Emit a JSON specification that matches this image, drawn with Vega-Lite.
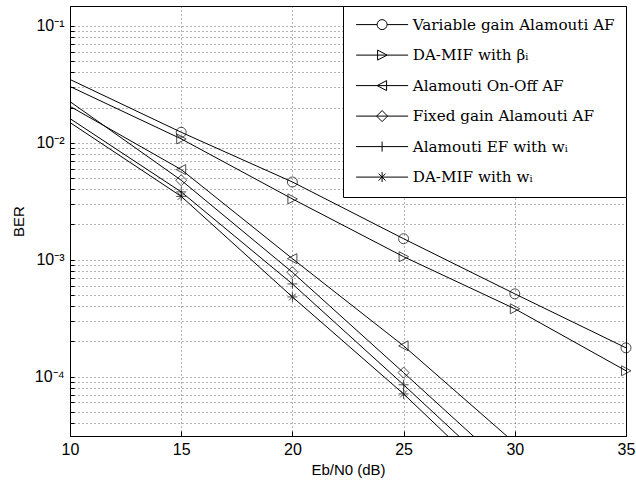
{
  "$schema": "https://vega.github.io/schema/vega-lite/v6.json",
  "width": 556,
  "height": 430,
  "autosize": {"type": "none"},
  "padding": {"left": 70, "top": 6, "right": 10, "bottom": 51},
  "background": "white",
  "config": {
    "view": {"stroke": "black", "strokeWidth": 1},
    "axis": {
      "labelFont": "Liberation Sans",
      "labelFontSize": 16,
      "labelColor": "black",
      "titleFont": "Liberation Sans",
      "titleFontSize": 15,
      "titleFontWeight": "normal",
      "titleColor": "black",
      "domainColor": "black",
      "tickColor": "black",
      "gridColor": "black",
      "gridDash": [1, 3],
      "gridOpacity": 0.6,
      "gridWidth": 1
    }
  },
  "data": {
    "values": [
      {"s": "Variable gain Alamouti AF", "x": 10, "y": 0.0348},
      {"s": "Variable gain Alamouti AF", "x": 15, "y": 0.0123},
      {"s": "Variable gain Alamouti AF", "x": 20, "y": 0.00462},
      {"s": "Variable gain Alamouti AF", "x": 25, "y": 0.00151},
      {"s": "Variable gain Alamouti AF", "x": 30, "y": 0.00051},
      {"s": "Variable gain Alamouti AF", "x": 35, "y": 0.000176},
      {"s": "DA-MIF with βᵢ", "x": 10, "y": 0.0303},
      {"s": "DA-MIF with βᵢ", "x": 15, "y": 0.0108},
      {"s": "DA-MIF with βᵢ", "x": 20, "y": 0.00331},
      {"s": "DA-MIF with βᵢ", "x": 25, "y": 0.00106},
      {"s": "DA-MIF with βᵢ", "x": 30, "y": 0.00038},
      {"s": "DA-MIF with βᵢ", "x": 35, "y": 0.000112},
      {"s": "Alamouti On-Off AF", "x": 10, "y": 0.0205},
      {"s": "Alamouti On-Off AF", "x": 15, "y": 0.0059},
      {"s": "Alamouti On-Off AF", "x": 20, "y": 0.00102},
      {"s": "Alamouti On-Off AF", "x": 25, "y": 0.000183},
      {"s": "Alamouti On-Off AF", "x": 30, "y": 0.000027},
      {"s": "Fixed gain Alamouti AF", "x": 10, "y": 0.0225},
      {"s": "Fixed gain Alamouti AF", "x": 15, "y": 0.00478},
      {"s": "Fixed gain Alamouti AF", "x": 20, "y": 0.00078},
      {"s": "Fixed gain Alamouti AF", "x": 25, "y": 0.000108},
      {"s": "Fixed gain Alamouti AF", "x": 30, "y": 0.0000147},
      {"s": "Alamouti EF with wᵢ", "x": 10, "y": 0.0161},
      {"s": "Alamouti EF with wᵢ", "x": 15, "y": 0.0038},
      {"s": "Alamouti EF with wᵢ", "x": 20, "y": 0.00062},
      {"s": "Alamouti EF with wᵢ", "x": 25, "y": 0.000085},
      {"s": "Alamouti EF with wᵢ", "x": 30, "y": 0.0000111},
      {"s": "DA-MIF with wᵢ", "x": 10, "y": 0.0149},
      {"s": "DA-MIF with wᵢ", "x": 15, "y": 0.00348},
      {"s": "DA-MIF with wᵢ", "x": 20, "y": 0.00048},
      {"s": "DA-MIF with wᵢ", "x": 25, "y": 0.000071},
      {"s": "DA-MIF with wᵢ", "x": 30, "y": 0.0000088}
    ]
  },
  "encoding": {
    "x": {
      "field": "x",
      "type": "quantitative",
      "scale": {"domain": [10, 35], "nice": false, "zero": false},
      "axis": {
        "values": [10, 15, 20, 25, 30, 35],
        "title": "Eb/N0 (dB)",
        "tickSize": -5,
        "labelPadding": 10,
        "labelFlush": false,
        "titlePadding": 5,
        "grid": true
      }
    },
    "y": {
      "field": "y",
      "type": "quantitative",
      "scale": {"type": "log", "domain": [0.000031, 0.148], "nice": false},
      "axis": {
        "values": [0.00004, 0.00005, 0.00006, 0.00007, 0.00008, 0.00009, 0.0001, 0.0002, 0.0003, 0.0004, 0.0005, 0.0006, 0.0007, 0.0008, 0.0009, 0.001, 0.002, 0.003, 0.004, 0.005, 0.006, 0.007, 0.008, 0.009, 0.01, 0.02, 0.03, 0.04, 0.05, 0.06, 0.07, 0.08, 0.09, 0.1],
        "labelExpr": "abs(log(datum.value)/LN10 - round(log(datum.value)/LN10)) < 1e-6 ? '10' + ['', '⁻¹', '⁻²', '⁻³', '⁻⁴', '⁻⁵'][-round(log(datum.value)/LN10)] : ''",
        "title": "BER",
        "tickSize": -4,
        "labelPadding": 10,
        "titlePadding": 8,
        "grid": true
      }
    }
  },
  "layer": [
    {
      "mark": {"type": "line", "color": "black", "strokeWidth": 1, "clip": true},
      "encoding": {"detail": {"field": "s", "type": "nominal"}}
    },
    {
      "transform": [{"filter": "datum.x > 10 && datum.y > 0.000031"}],
      "mark": {"type": "point", "filled": false, "color": "black", "strokeWidth": 1, "size": 100},
      "encoding": {
        "shape": {
          "field": "s",
          "type": "nominal",
          "scale": {
            "domain": ["Variable gain Alamouti AF", "DA-MIF with βᵢ", "Alamouti On-Off AF", "Fixed gain Alamouti AF", "Alamouti EF with wᵢ", "DA-MIF with wᵢ"],
            "range": [
              "M1,0A1,1,0,1,1,-1,0A1,1,0,1,1,1,0Z",
              "M-0.9,-1L1,0L-0.9,1Z",
              "M0.9,-1L-1,0L0.9,1Z",
              "M0,-1.1L1.1,0L0,1.1L-1.1,0Z",
              "M-1,0H1M0,-1V1",
              "M-1,0H1M0,-1V1M-0.7,-0.7L0.7,0.7M-0.7,0.7L0.7,-0.7"
            ]
          },
          "legend": null
        }
      }
    },
    {
      "transform": [{"filter": "datum.x == 15"}],
      "mark": {"type": "point", "filled": false, "color": "black", "strokeWidth": 1, "size": 100, "opacity": 0},
      "encoding": {
        "shape": {
          "field": "s",
          "type": "nominal",
          "scale": {
            "domain": ["Variable gain Alamouti AF", "DA-MIF with βᵢ", "Alamouti On-Off AF", "Fixed gain Alamouti AF", "Alamouti EF with wᵢ", "DA-MIF with wᵢ"],
            "range": [
              "M-5.2,0H-1M1,0H5.2M1,0A1,1,0,1,1,-1,0A1,1,0,1,1,1,0Z",
              "M-5.2,0H5.2M-0.9,-1L1,0L-0.9,1Z",
              "M-5.2,0H5.2M0.9,-1L-1,0L0.9,1Z",
              "M-5.2,0H5.2M0,-1.1L1.1,0L0,1.1L-1.1,0Z",
              "M-5.2,0H5.2M0,-1V1",
              "M-5.2,0H5.2M0,-1V1M-0.7,-0.7L0.7,0.7M-0.7,0.7L0.7,-0.7"
            ]
          },
          "legend": {
            "title": null,
            "orient": "top-right",
            "offset": 0,
            "padding": 11,
            "fillColor": "white",
            "strokeColor": "black",
            "cornerRadius": 0,
            "labelFont": "DejaVu Serif",
            "labelFontSize": 15.2,
            "labelColor": "black",
            "labelLimit": 400,
            "symbolOffset": 20.5,
            "labelOffset": 23,
            "rowPadding": 14.5,
            "symbolSize": 100,
            "symbolStrokeWidth": 1,
            "symbolStrokeColor": "black",
            "symbolFillColor": "transparent",
            "symbolOpacity": 1
          }
        }
      }
    }
  ],
  "resolve": {"scale": {"shape": "independent"}, "legend": {"shape": "independent"}}
}
